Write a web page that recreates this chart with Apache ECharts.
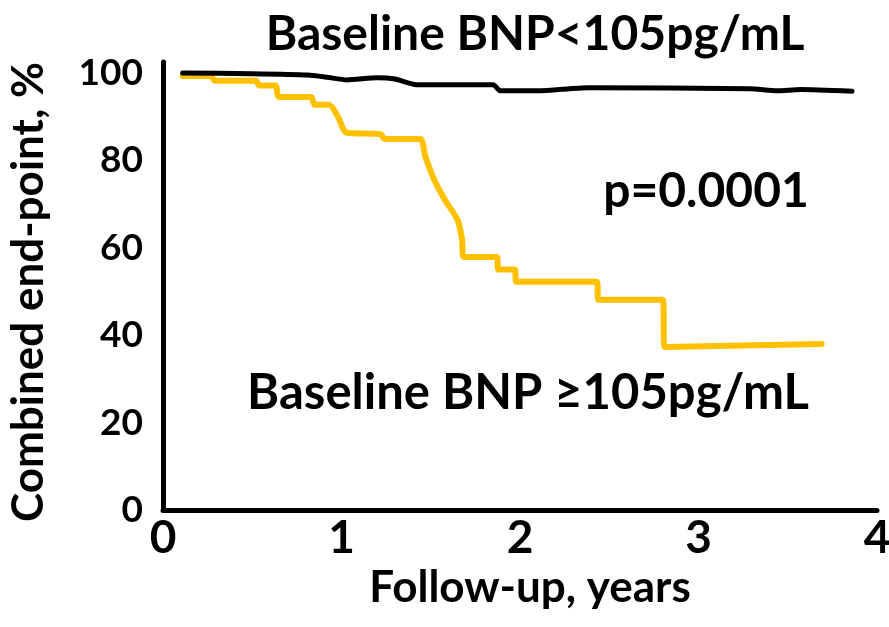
<!DOCTYPE html>
<html>
<head>
<meta charset="utf-8">
<script src="https://cdn.jsdelivr.net/npm/echarts@6/dist/echarts.min.js"></script>
<style>
  html, body { margin: 0; padding: 0; background: #fff; }
  #chart { width: 889px; height: 627px; }
</style>
</head>
<body>
<div id="chart"></div>
<script>
// Follow-up time (years) and event-free share (%) for the low-BNP group
const lowBnpYears = [0.11, 0.50, 0.81, 0.92, 1.03, 1.20, 1.30, 1.42, 1.85, 1.89, 2.10, 2.38, 3.29, 3.44, 3.57, 3.86];
const lowBnpPct   = [100.0, 99.8, 99.5, 99.0, 98.4, 98.9, 98.6, 97.3, 97.3, 95.9, 95.9, 96.6, 96.4, 95.9, 96.2, 95.8];

// Follow-up time (years) and event-free share (%) for the high-BNP group
const highBnpYears = [0.11, 0.27, 0.29, 0.52, 0.54, 0.63, 0.65, 0.83, 0.85, 0.93, 0.98, 1.03, 1.22, 1.24, 1.44, 1.47, 1.52, 1.58, 1.65, 1.675, 1.685, 1.87, 1.88, 1.97, 1.98, 2.43, 2.44, 2.80, 2.81, 3.69];
const highBnpPct   = [99.3, 99.3, 98.2, 98.2, 97.1, 97.1, 94.5, 94.5, 92.7, 92.7, 90.0, 86.3, 86.0, 84.9, 84.9, 80.8, 75.5, 70.9, 66.4, 62.0, 57.9, 57.9, 55.0, 55.0, 52.2, 52.2, 48.1, 48.1, 37.3, 38.0];

const xTicks = [0, 1, 2, 3, 4];
const yTicks = [0, 20, 40, 60, 80, 100];

const lowLabel = 'Baseline BNP<105pg/mL';
const highLabel = 'Baseline BNP \u2265105pg/mL';
const pLabel = 'p=0.0001';

const FONT = 'Lato, "Open Sans", "Noto Sans", sans-serif';

const zip = (xs, ys) => xs.map((x, i) => [x, ys[i]]);

const chart = echarts.init(document.getElementById('chart'), null, { renderer: 'canvas' });

chart.setOption({
  animation: false,
  backgroundColor: '#ffffff',
  grid: { left: 163, right: 12, top: 62, bottom: 117, containLabel: false, outerBoundsMode: 'none' },
  xAxis: {
    type: 'value',
    min: xTicks[0],
    max: xTicks[xTicks.length - 1],
    interval: 1,
    name: 'Follow-up, years',
    nameLocation: 'middle',
    nameGap: 55,
    nameTextStyle: {
      fontFamily: FONT, fontWeight: 'bold', fontSize: 44, color: '#000',
      verticalAlign: 'top', padding: [0, 0, 0, 20]
    },
    axisLine: { show: true, onZero: false, lineStyle: { color: '#000', width: 5 } },
    axisTick: { show: false },
    splitLine: { show: false },
    axisLabel: { fontFamily: FONT, fontWeight: 'bold', fontSize: 46, color: '#000', margin: 5 }
  },
  yAxis: {
    type: 'value',
    min: yTicks[0],
    max: 102.5,
    interval: 20,
    name: 'Combined end-point, %',
    nameLocation: 'middle',
    nameRotate: 90,
    nameGap: 112,
    nameTextStyle: { fontFamily: FONT, fontWeight: 'bold', fontSize: 44, color: '#000', padding: [0, 12, 0, 0] },
    axisLine: { show: true, onZero: false, lineStyle: { color: '#000', width: 5 } },
    axisTick: { show: false },
    splitLine: { show: false },
    axisLabel: {
      fontFamily: FONT, fontWeight: 'bold', fontSize: 37, color: '#000', margin: 20,
      formatter: v => (yTicks.indexOf(v) >= 0 ? String(v) : '')
    }
  },
  series: [
    {
      name: lowLabel,
      type: 'line',
      data: zip(lowBnpYears, lowBnpPct),
      showSymbol: false,
      smooth: 0.2,
      lineStyle: { color: '#000000', width: 5, cap: 'round', join: 'round' },
      z: 3
    },
    {
      name: highLabel,
      type: 'line',
      data: zip(highBnpYears, highBnpPct),
      showSymbol: false,
      smooth: 0.25,
      lineStyle: { color: '#FFC000', width: 6, cap: 'round', join: 'round' },
      z: 2
    }
  ],
  graphic: [
    {
      type: 'text', x: 535, y: 35,
      style: { text: lowLabel, font: 'bold 48px ' + FONT, fill: '#000', align: 'center', verticalAlign: 'middle' }
    },
    {
      type: 'text', x: 706, y: 192,
      style: { text: pLabel, font: 'bold 48px ' + FONT, fill: '#000', align: 'center', verticalAlign: 'middle' }
    },
    {
      type: 'text', x: 528, y: 393,
      style: { text: highLabel, font: 'bold 49px ' + FONT, fill: '#000', align: 'center', verticalAlign: 'middle' }
    }
  ]
});
</script>
</body>
</html>
